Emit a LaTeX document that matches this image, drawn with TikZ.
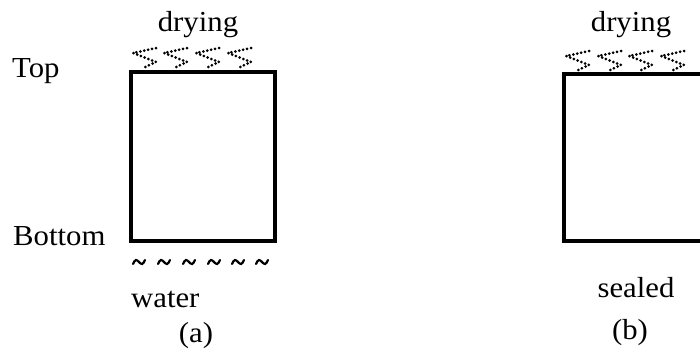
\documentclass[tikz,border=0pt]{standalone}
\usepackage{fontspec}
\setmainfont{Liberation Serif}
\newcommand{\wide}[1]{\scalebox{1.06}[1]{#1}}
\tikzset{
  lbl/.style={inner sep=0pt, font=\fontsize{29}{33}\selectfont},
  boxline/.style={line width=3.6pt, line join=miter},
  vapour/.style={line width=3pt, line cap=round, dash pattern=on 0pt off 4pt},
  wave/.style={line width=2.2pt, line cap=round},
}
\begin{document}
\begin{tikzpicture}[x=1pt,y=-1pt]
\useasboundingbox (0,0) rectangle (700,354);
\clip (0,0) rectangle (700,354);
% box (a)
\draw[boxline] (131,72) rectangle (275,241);
% box (b), cut by the right edge
\draw[boxline] (712,74) -- (564,74) -- (564,241) -- (712,241);
% vapour marks
\foreach \x/\y in {133/48,164/48,196/48,228/48,566/51,598/51,629/51,661/51}{
  \draw[vapour] (\x+23,\y) -- (\x,\y+5) -- (\x+23,\y+14) -- (\x+10,\y+20);
}
% water waves
\foreach \x in {133,158,183,208,232,256}{
  \draw[wave] (\x,264) sin (\x+3,260) cos (\x+6,262) sin (\x+9,264) cos (\x+12,260);
}
% labels
\node[lbl, anchor=base] (drya) at (198,31) {\wide{drying}};
\node[lbl, anchor=base] (dryb) at (631,31) {\wide{drying}};
\node[lbl, anchor=base west] (top) at (12,77) {\wide{Top}};
\node[lbl, anchor=base west] (bottom) at (13,245) {\wide{Bottom}};
\node[lbl, anchor=base west] (water) at (131,307) {\wide{water}};
\node[lbl, anchor=base] (capa) at (196,342) {\wide{(a)}};
\node[lbl, anchor=base] (sealed) at (636,297) {\wide{sealed}};
\node[lbl, anchor=base] (capb) at (630,339) {\wide{(b)}};
\end{tikzpicture}
\end{document}
